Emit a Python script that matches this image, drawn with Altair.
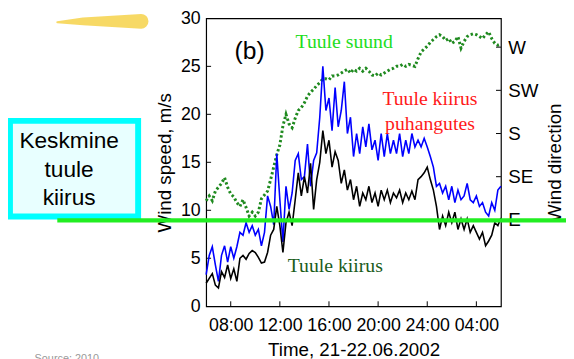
import altair as alt
import pandas as pd

# ---------------- data ----------------
# time axis: hours since 21.06.2002 00:00, sampled every 15 minutes (06:00 .. 06:00 next day)
TIME_H = [6 + i * 0.25 for i in range(97)]

# mean wind speed, m/s (black)
SPEED = [2.4, 2.9, 3.4, 2.2, 1.9, 3.6, 3.0, 4.3, 2.9, 3.9, 2.6, 5.0, 5.3, 4.9, 5.5, 5.8,
         5.6, 5.1, 4.5, 4.6, 5.6, 7.4, 8.0, 10.4, 8.4, 5.6, 8.7, 9.8, 8.4, 11.1, 13.9, 11.5,
         13.5, 11.8, 14.9, 10.1, 13.2, 15.0, 18.3, 15.9, 17.3, 14.5, 16.1, 15.2, 12.8, 14.2, 12.1, 13.2,
         11.1, 12.5, 10.4, 11.8, 11.1, 12.5, 10.8, 11.8, 10.4, 12.1, 11.1, 12.1, 10.8, 11.8, 11.3, 12.1,
         10.8, 11.8, 11.1, 12.0, 11.1, 13.2, 13.5, 13.9, 14.5, 13.2, 12.1, 10.4, 8.0, 9.4, 8.4, 9.8,
         8.7, 9.8, 8.0, 9.1, 8.0, 9.1, 7.7, 8.4, 7.7, 7.0, 7.7, 6.3, 6.8, 7.4, 8.7, 8.4, 9.2]

# gust wind speed, m/s (blue)
GUST = [3.3, 5.3, 6.2, 4.3, 2.6, 5.3, 6.3, 4.6, 6.2, 5.0, 6.2, 7.7, 7.4, 8.7, 7.7, 8.4,
        7.4, 8.0, 6.3, 7.7, 11.5, 10.4, 8.5, 15.9, 11.1, 6.7, 12.5, 10.1, 11.8, 15.2, 15.9, 13.2,
        13.5, 16.9, 12.5, 15.2, 16.0, 19.7, 25.0, 20.4, 21.7, 18.3, 22.8, 18.7, 20.4, 23.4, 18.0, 19.7,
        15.6, 18.0, 15.9, 18.7, 16.6, 19.0, 16.3, 17.3, 15.2, 18.0, 15.6, 18.0, 15.9, 17.3, 15.9, 18.0,
        15.6, 17.3, 15.9, 18.0, 16.6, 17.3, 16.6, 17.5, 16.6, 15.6, 14.5, 12.5, 12.8, 11.8, 12.5, 11.1,
        12.5, 10.8, 12.1, 11.1, 11.5, 12.8, 11.1, 10.8, 11.5, 10.4, 10.8, 9.8, 9.4, 10.8, 10.0, 12.1, 12.5]

# wind direction, degrees (green dotted, right axis)
DIRECTION = [110, 115, 110, 120, 124, 128, 134, 124, 117, 114, 108, 104, 111, 103, 94, 98,
             94, 98, 112, 116, 120, 132, 145, 158, 168, 188, 200, 190, 186, 196, 204, 207,
             212, 219, 223, 226, 230, 233, 237, 237, 236, 240, 240, 241, 243, 245, 247, 243,
             247, 245, 248, 245, 248, 245, 241, 240, 243, 241, 243, 245, 247, 248, 250, 250,
             252, 250, 252, 251, 250, 258, 265, 268, 271, 275, 278, 281, 283, 281, 277, 279,
             274, 276, 281, 269, 276, 281, 283, 284, 283, 281, 279, 283, 286, 279, 274, 272, 273]

MEAN_LEVEL = [8.95]

X_TICKS = [8, 12, 16, 20, 24, 28]
X_LABELS = ["08:00", "12:00", "16:00", "20:00", "24:00", "04:00"]
Y_TICKS = [0, 5, 10, 15, 20, 25, 30]
DIR_TICKS = [90, 135, 180, 225, 270]
DIR_LABELS = ["E", "SE", "S", "SW", "W"]

W, H = 299, 292
SANS = "Liberation Sans"
SERIF = "Liberation Serif"

df = pd.DataFrame({"t": TIME_H, "speed": SPEED, "gust": GUST, "dir": DIRECTION})

xs = alt.Scale(domain=[6, 30], nice=False, zero=False)
ys = alt.Scale(domain=[0, 30], nice=False)
ds = alt.Scale(domain=[0, 300], nice=False)

x_axis = alt.Axis(values=X_TICKS,
                  labelExpr=f"{X_LABELS}[indexof({X_TICKS}, datum.value)]",
                  ticks=False, domain=False, grid=False, labelOverlap=False, labelFlush=False,
                  labelFont=SANS, labelFontSize=18, labelColor="black", labelPadding=11,
                  title="Time, 21-22.06.2002", titleFont=SANS, titleFontSize=19,
                  titleFontWeight="normal", titleColor="black", titlePadding=6)
y_axis = alt.Axis(values=Y_TICKS, ticks=False, domain=False, grid=False,
                  labelFont=SANS, labelFontSize=18, labelColor="black", labelPadding=6,
                  title="Wind speed, m/s", titleFont=SANS, titleFontSize=19,
                  titleFontWeight="normal", titleColor="black", titlePadding=6)
d_axis = alt.Axis(orient="right", values=DIR_TICKS,
                  labelExpr=f"{DIR_LABELS}[indexof({DIR_TICKS}, datum.value)]",
                  ticks=False, domain=False, grid=False,
                  labelFont=SANS, labelFontSize=19, labelColor="black", labelPadding=7,
                  title="Wind direction", titleFont=SANS, titleFontSize=19, titleAngle=270,
                  titleAlign="center", titleBaseline="middle", titleX=54, titleY=H / 2,
                  titleFontWeight="normal", titleColor="black")

base = alt.Chart(df)

blue = base.mark_line(color="#0000ff", strokeWidth=1.6).encode(
    x=alt.X("t:Q", scale=xs, axis=x_axis), y=alt.Y("gust:Q", scale=ys, axis=y_axis))
black = base.mark_line(color="black", strokeWidth=1.6).encode(
    x=alt.X("t:Q", scale=xs), y=alt.Y("speed:Q", scale=ys))

xt = alt.Chart(pd.DataFrame({"v": X_TICKS})).mark_rule(color="black", strokeWidth=1).encode(
    x=alt.X("v:Q", scale=xs), y=alt.value(H), y2=alt.value(H - 5))
yt = alt.Chart(pd.DataFrame({"v": Y_TICKS[1:-1]})).mark_rule(color="black", strokeWidth=1).encode(
    y=alt.Y("v:Q", scale=ys), x=alt.value(0), x2=alt.value(5))

one = alt.Data(values=[{"a": 1}])


def label(txt, x, y, size, color, font, align="center"):
    return alt.Chart(one).mark_text(text=txt, fontSize=size, font=font, color=color,
                                    align=align, baseline="middle").encode(
        x=alt.value(x), y=alt.value(y))


texts = [
    label("(b)", 44, 33, 25, "black", SANS),
    label("Tuule suund", 140, 24, 20, "#22dd22", SERIF),
    label("Tuule kiirus", 227, 82, 20, "#ff1a1a", SERIF),
    label("puhangutes", 227, 107, 20, "#ff1a1a", SERIF),
    label("Tuule kiirus", 131, 251, 20, "#1a5c1a", SERIF),
]

# slide decorations
box = alt.Chart(one).mark_rect(fill="#e8ffff", stroke="#00ffff", strokeWidth=6).encode(
    x=alt.value(-199), x2=alt.value(-69), y=alt.value(104), y2=alt.value(201))
box_text = [
    label("Keskmine", -139, 124, 23, "black", SANS),
    label("tuule", -139, 154, 23, "black", SANS),
    label("kiirus", -139, 182, 23, "black", SANS),
]
stroke = alt.Chart(alt.Data(values=[{"x": -151, "y": 4, "s": 2}, {"x": -125, "y": 3, "s": 8},
                                    {"x": -66, "y": 3, "s": 15}])).mark_trail(
    color="#f6d24a", opacity=0.85).encode(
    x=alt.X("x:Q", scale=None), y=alt.Y("y:Q", scale=None), size=alt.Size("s:Q", scale=None))
source = alt.Chart(one).mark_text(text="Source: 2010", fontSize=11, font=SANS, color="#999999",
                                  align="left", baseline="top").encode(
    x=alt.value(-174), y=alt.value(340))

mean_line = alt.Chart(pd.DataFrame({"m": MEAN_LEVEL})).mark_rule(
    color="#22ee22", strokeWidth=4.5).encode(
    y=alt.Y("m:Q", scale=ys), x=alt.value(-151), x2=alt.value(366))

left = alt.layer(xt, yt, blue, black, *texts, box, *box_text, stroke, source, mean_line)

green = base.mark_line(color="#1f8a1f", strokeWidth=3, strokeDash=[2.4, 2.4]).encode(
    x=alt.X("t:Q", scale=xs), y=alt.Y("dir:Q", scale=ds, axis=d_axis))
dt = alt.Chart(pd.DataFrame({"v": DIR_TICKS})).mark_rule(color="black", strokeWidth=1).encode(
    y=alt.Y("v:Q", scale=ds), x=alt.value(W - 5), x2=alt.value(W))
right = alt.layer(green, dt)

chart = alt.layer(right, left).resolve_scale(y="independent").properties(
    width=W, height=H, autosize=alt.AutoSizeParams(type="none"),
    padding={"left": 201, "top": 8, "right": 66, "bottom": 51},
    background="white",
).configure_view(stroke="black", strokeWidth=1.2)

chart.save("out.html", embed_options={"renderer": "svg", "actions": False})
